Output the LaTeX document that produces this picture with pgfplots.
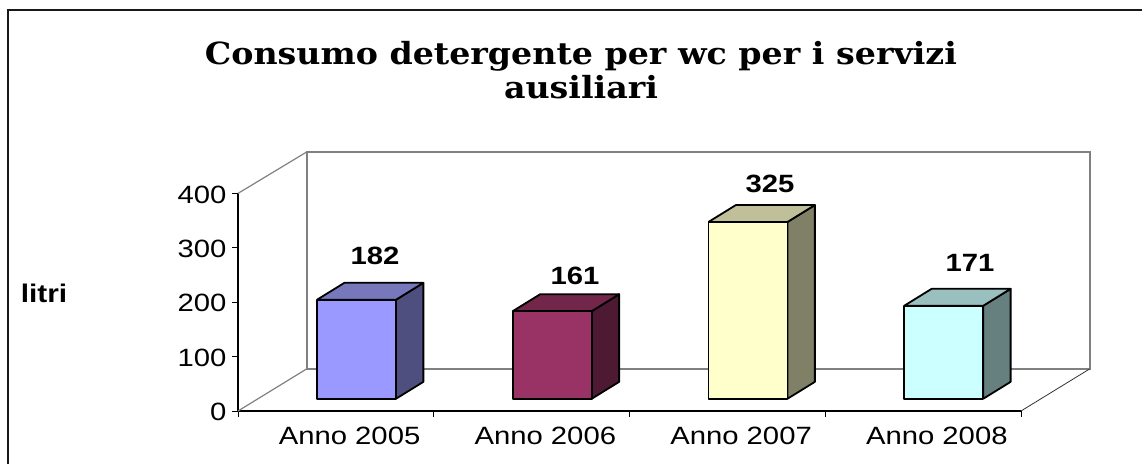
\documentclass[border=0pt]{standalone}
\usepackage{fontspec}
\setmainfont[FakeStretch=1.17]{Liberation Sans}
\newfontfamily\titlefont[FakeStretch=1.09]{DejaVu Serif}
\usepackage{pgfplots}
\pgfplotsset{compat=1.18}
\definecolor{wallgray}{HTML}{808080}
\definecolor{aF}{HTML}{9999FF}\definecolor{aT}{HTML}{7777BB}\definecolor{aS}{HTML}{4F4F7F}
\definecolor{bF}{HTML}{993366}\definecolor{bT}{HTML}{722649}\definecolor{bS}{HTML}{4D1933}
\definecolor{cF}{HTML}{FFFFCC}\definecolor{cT}{HTML}{BFBF99}\definecolor{cS}{HTML}{808066}
\definecolor{dF}{HTML}{CCFFFF}\definecolor{dT}{HTML}{99BFBF}\definecolor{dS}{HTML}{668080}
\begin{document}
\begin{tikzpicture}
\useasboundingbox (0,0) rectangle (1142pt,464pt);
\draw[line width=2pt,color=black!90] (7.5pt,0pt)--(7.5pt,453.5pt)--(1142pt,453.5pt);
\node[font=\titlefont\bfseries\fontsize{30.5}{33.5}\selectfont,align=center,anchor=center] at (581pt,394pt)
 {Consumo detergente per wc per i servizi\\ausiliari};
\node[font=\bfseries\fontsize{25.5}{27}\selectfont,anchor=center] at (44pt,171pt) {litri};
\begin{axis}[
  at={(238pt,53pt)},anchor=south west,
  scale only axis,width=783pt,height=217.6pt,
  xmin=0,xmax=4,ymin=0,ymax=400,
  clip=false,
  axis lines*=left,
  axis line style={black,line width=1.2pt,-},
  tick align=outside,
  tick style={black,line width=0.8pt},
  major tick length=6pt,
  minor tick num=0,
  ytick={0,100,200,300,400},
  xtick={0,1,2,3,4},
  xticklabels={},
  extra x ticks={0.57,1.57,2.57,3.57},
  extra x tick labels={Anno 2005,Anno 2006,Anno 2007,Anno 2008},
  extra tick style={major tick length=0pt},
  /pgf/number format/assume math mode=true,
  tick label style={font=\fontsize{25}{27}\selectfont},
  xticklabel style={yshift=-13pt},
  yticklabel style={xshift=-2pt,yshift=-1pt},
  ybar,
  bar width=79pt,
  bar shift=0pt,
  3dface/.style={xshift=20.7pt,yshift=12.3pt,draw=black,line width=1.8pt,line join=round,sharp plot,mark=none},
]
% back wall and floor edges
\draw[wallgray,line width=2pt] (axis cs:0.35,77.2)--(axis cs:4.35,77.2)--(axis cs:4.35,476)--(axis cs:0.35,476)--cycle;
\draw[wallgray,line width=1.2pt] (axis cs:0,400)--(axis cs:0.35,476);
\draw[wallgray,line width=1.2pt] (axis cs:0,0)--(axis cs:0.35,77.2);
\draw[black!80,line width=0.8pt] (axis cs:4,0)--(axis cs:4.35,77.2);
% bar 2005
\addplot[3dface,fill=aS] coordinates {(0.7018,0)(0.8413,31)(0.8413,213)(0.7018,182)(0.7018,0)};
\addplot[3dface,fill=aT] coordinates {(0.2982,182)(0.4377,213)(0.8413,213)(0.7018,182)(0.2982,182)};
\addplot[3dface,ybar,fill=aF] coordinates {(0.5,182)};
% bar 2006
\addplot[3dface,fill=bS] coordinates {(1.7018,0)(1.8413,31)(1.8413,192)(1.7018,161)(1.7018,0)};
\addplot[3dface,fill=bT] coordinates {(1.2982,161)(1.4377,192)(1.8413,192)(1.7018,161)(1.2982,161)};
\addplot[3dface,ybar,fill=bF] coordinates {(1.5,161)};
% bar 2007
\addplot[3dface,fill=cS] coordinates {(2.7018,0)(2.8413,31)(2.8413,356)(2.7018,325)(2.7018,0)};
\addplot[3dface,fill=cT] coordinates {(2.2982,325)(2.4377,356)(2.8413,356)(2.7018,325)(2.2982,325)};
\addplot[3dface,ybar,fill=cF] coordinates {(2.5,325)};
% bar 2008
\addplot[3dface,fill=dS] coordinates {(3.7018,0)(3.8413,31)(3.8413,202)(3.7018,171)(3.7018,0)};
\addplot[3dface,fill=dT] coordinates {(3.2982,171)(3.4377,202)(3.8413,202)(3.7018,171)(3.2982,171)};
\addplot[3dface,ybar,fill=dF] coordinates {(3.5,171)};
% value labels
\node[font=\bfseries\fontsize{25}{27}\selectfont] at (axis cs:0.70,285) {182};
\node[font=\bfseries\fontsize{25}{27}\selectfont] at (axis cs:1.722,248) {161};
\node[font=\bfseries\fontsize{25}{27}\selectfont] at (axis cs:2.718,417) {325};
\node[font=\bfseries\fontsize{25}{27}\selectfont] at (axis cs:3.739,272) {171};
\end{axis}
\end{tikzpicture}
\end{document}
